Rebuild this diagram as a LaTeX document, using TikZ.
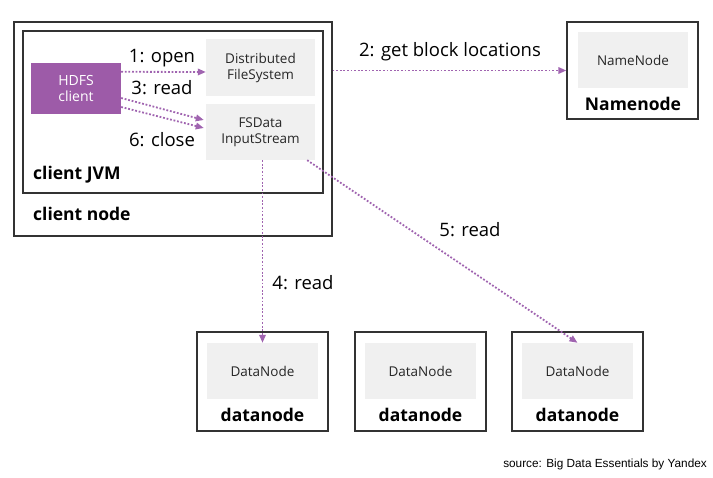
\documentclass[tikz,border=0pt]{standalone}
\usepackage{fontspec}
\setmainfont{Open Sans}
\newfontfamily\srcfont{Liberation Sans}
\usetikzlibrary{arrows.meta}
\definecolor{frame}{HTML}{333333}
\definecolor{pale}{HTML}{F0F0F0}
\definecolor{purp}{HTML}{9D5BA8}
\definecolor{arr}{HTML}{A064B0}
\tikzset{
  hostbox/.style={draw=frame, line width=1.3pt, fill=white, inner sep=0pt},
  graybox/.style={fill=pale, inner sep=0pt, align=center, font=\fontsize{13.5}{16}\selectfont, text=black!85},
  clientbox/.style={fill=purp, inner sep=0pt, align=center, text=white, font=\fontsize{14}{16}\selectfont},
  boldlabel/.style={font=\fontsize{17.5}{18}\selectfont\bfseries, inner sep=0pt},
  steplabel/.style={font=\fontsize{18.5}{18}\selectfont, inner sep=0pt, text=black},
  flow/.style={draw=arr, line width=1.8pt, dash pattern=on 1.8pt off 1.8pt, -{Triangle[length=8pt,width=6.5pt]}},
}
\begin{document}
\begin{tikzpicture}[x=1pt,y=-1pt]
\useasboundingbox (0,0) rectangle (713,478);
% client node
\node[hostbox, minimum width=318pt, minimum height=214pt] (clientnode) at (173,129) {};
\node[hostbox, minimum width=300pt, minimum height=162pt] (jvm) at (173,112) {};
\node[boldlabel, anchor=west] (jvmlbl) at (33,175) {client JVM};
\node[boldlabel, anchor=west] (cnlbl) at (33,214) {client node};
\node[clientbox, minimum width=90pt, minimum height=51pt] (hdfs) at (76,88.5) {HDFS\\client};
\node[graybox, minimum width=109pt, minimum height=57pt] (dfs) at (260.5,67.5) {Distributed\\FileSystem};
\node[graybox, minimum width=109pt, minimum height=56pt] (fsd) at (260.5,132) {FSData\\InputStream};
% namenode
\node[hostbox, minimum width=131pt, minimum height=97pt] (nn) at (632.5,70.5) {};
\node[graybox, minimum width=110pt, minimum height=56pt] (nnin) at (633,60) {NameNode};
\node[boldlabel] (nnlbl) at (633,104) {Namenode};
% datanodes
\node[hostbox, minimum width=131pt, minimum height=99pt] (dn1) at (262.5,381.5) {};
\node[graybox, minimum width=111pt, minimum height=56pt] (dn1in) at (262.5,371) {DataNode};
\node[boldlabel] (dn1lbl) at (262.5,415) {datanode};
\node[hostbox, minimum width=131pt, minimum height=99pt] (dn2) at (420.5,381.5) {};
\node[graybox, minimum width=111pt, minimum height=56pt] (dn2in) at (420.5,371) {DataNode};
\node[boldlabel] (dn2lbl) at (420.5,415) {datanode};
\node[hostbox, minimum width=131pt, minimum height=99pt] (dn3) at (577.5,381.5) {};
\node[graybox, minimum width=111pt, minimum height=56pt] (dn3in) at (577.5,371) {DataNode};
\node[boldlabel] (dn3lbl) at (577.5,415) {datanode};
% flows
\draw[flow] ([yshift=-9pt]hdfs.north east) -- ([yshift=-4.5pt]dfs.west);
\draw[flow] ([yshift=-9.5pt]hdfs.east) -- ([xshift=-2pt,yshift=12pt]fsd.west);
\draw[flow] ([yshift=-18.5pt]hdfs.east) -- ([xshift=-2pt,yshift=4pt]fsd.west);
\draw[flow] (clientnode.east |- nn.west) -- (nn.west);
\draw[flow] (dn1in.north |- fsd.south) -- (dn1in.north);
\draw[flow] ([xshift=-8pt]fsd.south east) -- (dn3in.north);
% step labels
\node[steplabel] (l1) at (162,58) {1: open};
\node[steplabel] (l3) at (162,88) {3: read};
\node[steplabel] (l6) at (162,140) {6: close};
\node[steplabel] (l2) at (450,52) {2: get block locations};
\node[steplabel] (l4) at (303,283) {4: read};
\node[steplabel] (l5) at (470,230) {5: read};
\node[anchor=east, inner sep=0pt, font=\srcfont\fontsize{11.8}{13}\selectfont] (src) at (707,464) {source: Big Data Essentials by Yandex};
\end{tikzpicture}
\end{document}
